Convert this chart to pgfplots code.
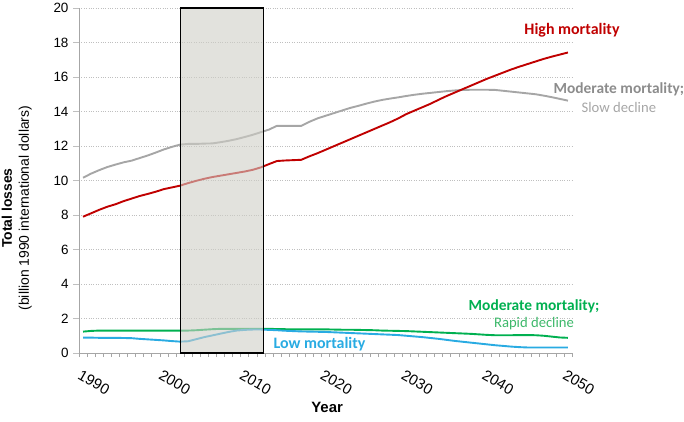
\documentclass[border=0pt]{standalone}
\usepackage{fontspec}
\setmainfont{Liberation Sans}
\newfontfamily\calib{Carlito}
\usepackage{pgfplots}
\usepackage{pgfplotstable}
\pgfplotsset{compat=1.18}
\definecolor{highred}{HTML}{C00000}
\definecolor{slowgray}{HTML}{A6A6A6}
\definecolor{slowtext}{HTML}{8C8C8C}
\definecolor{rapidgreen}{HTML}{00B050}
\definecolor{rapidtext}{HTML}{3DB86A}
\definecolor{lowblue}{HTML}{29ABE2}
\definecolor{gridline}{HTML}{BFBFBF}
\definecolor{axisline}{HTML}{A6A6A6}
\definecolor{boxfill}{HTML}{CFCEC6}

\pgfplotstableread{
year high slow rapid low
1990 7.90 10.16 1.24 0.89
1991 8.10 10.40 1.28 0.89
1992 8.30 10.60 1.30 0.88
1993 8.48 10.78 1.30 0.88
1994 8.62 10.92 1.30 0.88
1995 8.80 11.05 1.30 0.87
1996 8.95 11.15 1.30 0.86
1997 9.10 11.30 1.30 0.82
1998 9.22 11.45 1.30 0.79
1999 9.35 11.62 1.30 0.76
2000 9.50 11.80 1.30 0.73
2001 9.60 11.95 1.30 0.69
2002 9.70 12.08 1.30 0.66
2003 9.85 12.12 1.30 0.68
2004 9.98 12.12 1.32 0.80
2005 10.10 12.14 1.35 0.92
2006 10.20 12.15 1.38 1.02
2007 10.28 12.22 1.40 1.12
2008 10.36 12.30 1.40 1.22
2009 10.44 12.40 1.40 1.30
2010 10.52 12.52 1.40 1.34
2011 10.62 12.65 1.40 1.36
2012 10.76 12.80 1.40 1.36
2013 10.95 12.95 1.40 1.34
2014 11.13 13.17 1.39 1.32
2015 11.16 13.17 1.38 1.29
2016 11.18 13.17 1.37 1.27
2017 11.20 13.17 1.37 1.25
2018 11.40 13.40 1.37 1.24
2019 11.58 13.60 1.37 1.23
2020 11.78 13.75 1.37 1.22
2021 11.98 13.90 1.36 1.20
2022 12.18 14.05 1.35 1.18
2023 12.38 14.20 1.35 1.16
2024 12.58 14.32 1.34 1.14
2025 12.78 14.45 1.33 1.12
2026 12.98 14.57 1.32 1.10
2027 13.18 14.67 1.30 1.08
2028 13.38 14.75 1.29 1.06
2029 13.60 14.82 1.28 1.04
2030 13.85 14.90 1.27 1.00
2031 14.05 14.97 1.25 0.96
2032 14.25 15.03 1.23 0.92
2033 14.45 15.08 1.21 0.87
2034 14.68 15.13 1.19 0.82
2035 14.90 15.18 1.17 0.76
2036 15.10 15.22 1.15 0.70
2037 15.30 15.25 1.13 0.65
2038 15.50 15.26 1.11 0.60
2039 15.70 15.26 1.08 0.55
2040 15.90 15.26 1.05 0.50
2041 16.08 15.25 1.03 0.45
2042 16.26 15.20 1.03 0.41
2043 16.44 15.15 1.03 0.37
2044 16.60 15.10 1.04 0.34
2045 16.75 15.05 1.04 0.32
2046 16.90 15.00 1.03 0.32
2047 17.05 14.92 1.00 0.32
2048 17.18 14.83 0.95 0.32
2049 17.30 14.73 0.90 0.32
2050 17.42 14.63 0.88 0.32
}\losses

\begin{document}
\begin{tikzpicture}
  \begin{axis}[
      name=main,
      scale only axis,
      width=493bp, height=345bp,
      xmin=1989.5, xmax=2050.5,
      ymin=0, ymax=20,
      axis lines*=left,
      axis line style={axisline, line width=0.8pt},
      clip=false,
      xtick={1990,2000,...,2050},
      major x tick style={draw=none},
      minor xtick={1989.5,1990.5,...,2050.5},
      minor x tick style={axisline, line width=0.6pt},
      minor tick length=4bp,
      tick align=outside,
      ytick={0,2,...,20},
      major y tick style={gridline, line width=0.6pt},
      major tick length=6bp,
      ymajorgrids,
      major grid style={gridline, dotted, line width=0.6pt},
      xticklabel style={font=\fontsize{15}{17}\selectfont, rotate=-30, anchor=north west, xshift=1bp, yshift=-6bp},
      yticklabel style={font=\fontsize{13.5}{16}\selectfont, xshift=-1bp},
      /pgf/number format/assume math mode=true,
      /pgf/number format/1000 sep={},
      every axis plot/.append style={line width=1.9bp, no markers},
    ]
    \addplot[slowgray] table[x=year, y=slow] {\losses};
    \addplot[highred] table[x=year, y=high] {\losses};
    \addplot[rapidgreen] table[x=year, y=rapid] {\losses};
    \addplot[lowblue] table[x=year, y=low] {\losses};

    \draw[black, line width=1.3bp, fill=boxfill, fill opacity=0.6]
      (axis cs:2002.1,0) rectangle (axis cs:2012.3,20);

    \node[font=\calib\bfseries\fontsize{16}{18}\selectfont, text=highred] at (axis cs:2050.5,18.72) {High mortality};
    \node[font=\calib\bfseries\fontsize{15.5}{18}\selectfont, text=slowtext] at (axis cs:2056.3,15.3) {Moderate mortality;};
    \node[font=\calib\fontsize{14.7}{17}\selectfont, text=slowgray] at (axis cs:2056.3,14.26) {Slow decline};
    \node[font=\calib\bfseries\fontsize{15.5}{18}\selectfont, text=rapidgreen] at (axis cs:2045.8,2.72) {Moderate mortality;};
    \node[font=\calib\fontsize{14.7}{17}\selectfont, text=rapidtext] at (axis cs:2045.8,1.68) {Rapid decline};
    \node[font=\calib\bfseries\fontsize{16}{18}\selectfont, text=lowblue] at (axis cs:2019.26,0.52) {Low mortality};

    \node[font=\bfseries\fontsize{15}{17}\selectfont] at (axis cs:2020.2,-3.13) {Year};
    \node[rotate=90, align=center, font=\fontsize{14}{17}\selectfont] at (axis cs:1981.8,8.4)
      {\textbf{Total losses}\\(billion 1990 international dollars)};
  \end{axis}
  \pgfresetboundingbox
  \path (main.south west) ++(-79bp,-69bp) rectangle ++(684bp,422bp);
\end{tikzpicture}
\end{document}
